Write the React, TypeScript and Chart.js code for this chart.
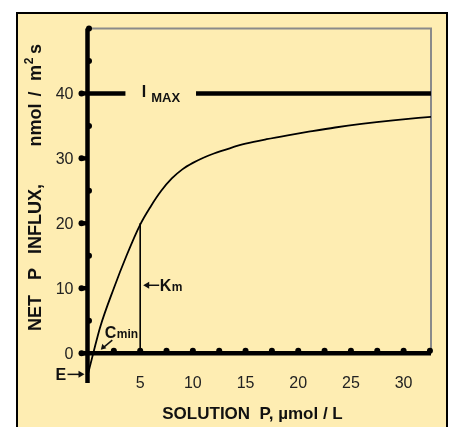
import React, { useEffect, useRef } from "react";
import { Chart, registerables } from "chart.js";
Chart.register(...registerables);

// curve (solution P vs net influx)
const curveX = [0, 0.55, 1.2, 2.5, 3.7, 5, 6, 7, 8, 9, 10, 11, 12, 13.5, 15, 17, 19, 21, 23.5, 26, 29, 32.6];
const curveY = [-3.5, 0, 4, 10, 15, 19.8, 22.6, 25.0, 26.9, 28.3, 29.3, 30.1, 30.75, 31.55, 32.25, 32.95, 33.55, 34.1, 34.75, 35.3, 35.85, 36.4];

const imaxValue = 40;
const imaxLeftX = [0, 3.6];
const imaxRightX = [10.3, 32.6];
const kmX = 5;
const kmY = 20;
const cminX = 0.55;
const eY = -3.5;

const xMin = 0;
const xMax = 32.6;
const yMin = -4.6;
const yMax = 50;
const xTickValues = [2.5, 5, 7.5, 10, 12.5, 15, 17.5, 20, 22.5, 25, 27.5, 30, 32.5];
const xLabelValues = [5, 10, 15, 20, 25, 30];
const yTickValues = [5, 15, 25, 35, 45, 50];
const yLabelValues = [0, 10, 20, 30, 40];

const xTitle = "SOLUTION  P, µmol / L";
// y title words with their centre positions (screen y)
const yTitleWords = ["NET", "P", "INFLUX,", "nmol", "/", "m", "s"];
const yTitleCenters = [313, 274, 219, 125, 94, 73, 49];

const FONT = "Arial, 'Liberation Sans', sans-serif";

const drawPlugin = {
  id: "customAxes",
  beforeDatasetsDraw(chart: any) {
    const ctx = chart.ctx;
    const xs = chart.scales.x;
    const ys = chart.scales.y;
    const X = (v: number) => xs.getPixelForValue(v);
    const Y = (v: number) => ys.getPixelForValue(v);
    ctx.save();
    ctx.strokeStyle = "#8a8a8a";
    ctx.lineWidth = 2;
    ctx.beginPath();
    ctx.moveTo(X(0), Y(yMax));
    ctx.lineTo(X(xMax), Y(yMax));
    ctx.lineTo(X(xMax), Y(0));
    ctx.stroke();
    ctx.strokeStyle = "#000";
    ctx.lineWidth = 4.5;
    ctx.lineCap = "butt";
    ctx.beginPath();
    ctx.moveTo(X(0), Y(yMin));
    ctx.lineTo(X(0), Y(yMax));
    ctx.stroke();
    ctx.beginPath();
    ctx.moveTo(X(0) - 7, Y(0));
    ctx.lineTo(X(xMax), Y(0));
    ctx.stroke();
    ctx.restore();
  },
  afterDatasetsDraw(chart: any) {
    const ctx = chart.ctx;
    const xs = chart.scales.x;
    const ys = chart.scales.y;
    const X = (v: number) => xs.getPixelForValue(v);
    const Y = (v: number) => ys.getPixelForValue(v);
    ctx.save();
    ctx.fillStyle = "#000";
    yTickValues.forEach((v) => {
      ctx.beginPath();
      ctx.arc(X(0) + 1.5, Y(v), 3, 0, Math.PI * 2);
      ctx.fill();
    });
    yLabelValues.forEach((v) => {
      ctx.fillRect(X(0) - 7, Y(v) - 2.2, 7, 4.4);
      ctx.beginPath();
      ctx.arc(X(0) - 6, Y(v), 3, 0, Math.PI * 2);
      ctx.fill();
    });
    xTickValues.forEach((v) => {
      ctx.beginPath();
      ctx.arc(X(v), Y(0) - 2.5, 3, 0, Math.PI * 2);
      ctx.fill();
    });
    // tick labels
    ctx.fillStyle = "#222";
    ctx.font = `16px ${FONT}`;
    ctx.textAlign = "right";
    ctx.textBaseline = "middle";
    yLabelValues.forEach((v) => ctx.fillText(String(v), X(0) - 14, Y(v) + 1));
    ctx.textAlign = "center";
    xLabelValues.forEach((v) => ctx.fillText(String(v), X(v), Y(yMin) + 1));

    // titles
    ctx.fillStyle = "#111";
    ctx.font = `bold 17px ${FONT}`;
    ctx.textAlign = "center";
    ctx.textBaseline = "alphabetic";
    ctx.fillText(xTitle, 252.5, 419);
    ctx.font = `bold 18px ${FONT}`;
    yTitleWords.forEach((w, i) => {
      ctx.save();
      ctx.translate(40.5, yTitleCenters[i]);
      ctx.rotate(-Math.PI / 2);
      ctx.fillText(w, 0, 0);
      ctx.restore();
    });
    ctx.save();
    ctx.font = `bold 12px ${FONT}`;
    ctx.translate(33, 61);
    ctx.rotate(-Math.PI / 2);
    ctx.fillText("2", 0, 0);
    ctx.restore();

    // I MAX label
    ctx.textAlign = "left";
    ctx.textBaseline = "alphabetic";
    ctx.font = `bold 16px ${FONT}`;
    ctx.fillText("I", X(5.15), Y(imaxValue) + 4);
    ctx.font = `bold 13px ${FONT}`;
    ctx.fillText("MAX", X(6.05), Y(imaxValue) + 9);

    // Km label with arrow
    const kmLy = Y(kmY) + 62;
    ctx.strokeStyle = "#111";
    ctx.lineWidth = 1.5;
    ctx.beginPath();
    ctx.moveTo(X(kmX) + 5, kmLy);
    ctx.lineTo(X(kmX) + 19, kmLy);
    ctx.stroke();
    ctx.beginPath();
    ctx.moveTo(X(kmX) + 3, kmLy);
    ctx.lineTo(X(kmX) + 9, kmLy - 3.5);
    ctx.lineTo(X(kmX) + 9, kmLy + 3.5);
    ctx.closePath();
    ctx.fill();
    ctx.font = `bold 16px ${FONT}`;
    ctx.fillText("K", X(kmX) + 19.5, kmLy + 5.5);
    ctx.font = `bold 12px ${FONT}`;
    ctx.fillText("m", X(kmX) + 31.5, kmLy + 5.5);

    // Cmin label with arrow
    const cx = X(cminX);
    const cy = Y(0);
    ctx.font = `bold 16px ${FONT}`;
    ctx.fillText("C", cx + 11.5, cy - 15);
    ctx.font = `bold 12px ${FONT}`;
    ctx.fillText("min", cx + 23.5, cy - 15);
    ctx.beginPath();
    ctx.moveTo(cx + 19, cy - 13);
    ctx.lineTo(cx + 10, cy - 5.5);
    ctx.stroke();
    ctx.beginPath();
    ctx.moveTo(cx + 7.5, cy - 3.5);
    ctx.lineTo(cx + 9, cy - 9.5);
    ctx.lineTo(cx + 13, cy - 5);
    ctx.closePath();
    ctx.fill();

    // E label with arrow
    const ey = Y(eY) - 1.5;
    const ex = X(0);
    ctx.font = `bold 16px ${FONT}`;
    ctx.textBaseline = "middle";
    ctx.fillText("E", ex - 32, ey + 1);
    ctx.beginPath();
    ctx.moveTo(ex - 20, ey);
    ctx.lineTo(ex - 8, ey);
    ctx.stroke();
    ctx.beginPath();
    ctx.moveTo(ex - 3, ey);
    ctx.lineTo(ex - 9, ey - 3.5);
    ctx.lineTo(ex - 9, ey + 3.5);
    ctx.closePath();
    ctx.fill();
    ctx.restore();
  },
};

export default function App() {
  const ref = useRef<HTMLCanvasElement>(null);
  useEffect(() => {
    if (!ref.current) return;
    const chart = new Chart(ref.current, {
      type: "line",
      data: {
        datasets: [
          {
            data: curveX.map((x, i) => ({ x, y: curveY[i] })),
            borderColor: "#000",
            borderWidth: 1.8,
            pointRadius: 0,
            cubicInterpolationMode: "monotone",
          },
          {
            data: imaxLeftX.map((x) => ({ x, y: imaxValue })),
            borderColor: "#000",
            borderWidth: 4.5,
            pointRadius: 0,
          },
          {
            data: imaxRightX.map((x) => ({ x, y: imaxValue })),
            borderColor: "#000",
            borderWidth: 4.5,
            pointRadius: 0,
          },
          {
            data: [
              { x: kmX, y: 0 },
              { x: kmX, y: kmY },
            ],
            borderColor: "#000",
            borderWidth: 1.6,
            pointRadius: 0,
          },
        ],
      } as any,
      options: {
        animation: false,
        responsive: true,
        maintainAspectRatio: false,
        layout: { padding: { left: 87.5, top: 28.5, right: 20, bottom: 44 } },
        plugins: { legend: { display: false }, tooltip: { enabled: false } },
        scales: {
          x: { type: "linear", min: xMin, max: xMax, display: false },
          y: { type: "linear", min: yMin, max: yMax, display: false },
        },
        elements: { line: { borderCapStyle: "butt" } },
      } as any,
      plugins: [drawPlugin],
    });
    return () => chart.destroy();
  }, []);
  return (
    <div style={{ position: "fixed", left: 0, top: 0, width: 451, height: 427, background: "#fff", overflow: "hidden" }}>
      <div
        style={{
          position: "absolute",
          left: 16,
          top: 12,
          width: 428,
          height: 430,
          border: "2px solid #000",
          background: "#FEEDB2",
        }}
      />
      <div style={{ position: "absolute", left: 0, top: 0, width: 451, height: 427 }}>
        <canvas ref={ref} />
      </div>
    </div>
  );
}
